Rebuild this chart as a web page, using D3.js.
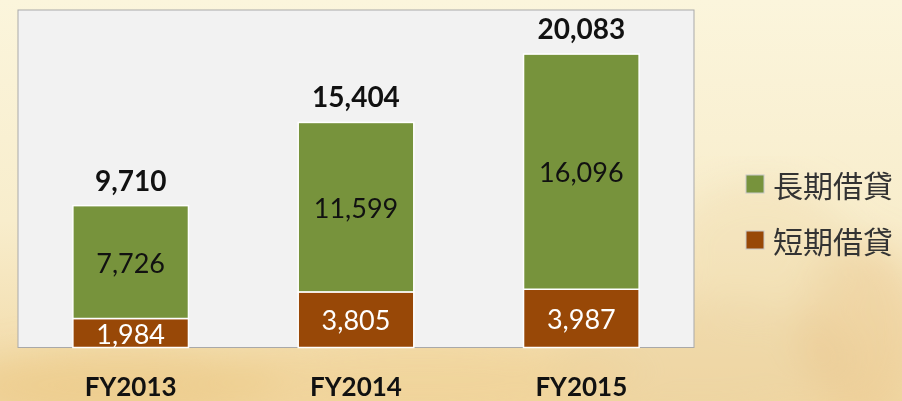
<!DOCTYPE html>
<html>
<head>
<meta charset="utf-8">
<script src="https://cdn.jsdelivr.net/npm/d3@7"></script>
<style>
    body { margin: 0; background: #faf3d8; overflow: hidden; }
    svg { display: block; }
    .total { font-family: Lato, "Open Sans", sans-serif; font-weight: 700; font-size: 28px; fill: #111; }
    .inner { font-family: Lato, "Open Sans", sans-serif; font-size: 27px; }
    .xlab { font-family: Lato, "Open Sans", sans-serif; font-weight: 700; font-size: 26px; fill: #111; }
    .legend text { font-family: "Noto Sans CJK TC", sans-serif; font-size: 30px; fill: #333; }
</style>
</head>
<body>
<div id="chart"></div>
<script>
// Data
const years = ["FY2013", "FY2014", "FY2015"];
const longTerm = [7726, 11599, 16096];
const shortTerm = [1984, 3805, 3987];
const totals = [9710, 15404, 20083];
const seriesNames = ["長期借貸", "短期借貸"];
const seriesColors = ["#77933c", "#984807"];

const width = 902, height = 401;
const plot = { left: 18, top: 10, right: 694, bottom: 347.5 };

const svg = d3.select("#chart").append("svg")
    .attr("width", width)
    .attr("height", height);

// --- Background (warm watercolor paper) ---
const defs = svg.append("defs");
const bgGrad = defs.append("linearGradient").attr("id", "bg").attr("x1", 0).attr("y1", 0).attr("x2", 0).attr("y2", 1);
bgGrad.append("stop").attr("offset", "0%").attr("stop-color", "#fbf5dc");
bgGrad.append("stop").attr("offset", "55%").attr("stop-color", "#f8edcc");
bgGrad.append("stop").attr("offset", "100%").attr("stop-color", "#f1d8a4");
svg.append("rect").attr("width", width).attr("height", height).attr("fill", "url(#bg)");

defs.append("filter").attr("id", "blur").append("feGaussianBlur").attr("stdDeviation", 18);
const blobs = [
    { cx: 120, cy: 385, rx: 160, ry: 35, c: "#ebc47e", o: 0.55 },
    { cx: 420, cy: 380, rx: 220, ry: 40, c: "#f0cf92", o: 0.5 },
    { cx: 700, cy: 360, rx: 150, ry: 60, c: "#ecd2a0", o: 0.5 },
    { cx: 860, cy: 330, rx: 60, ry: 90, c: "#e9c68c", o: 0.45 },
    { cx: 760, cy: 250, rx: 90, ry: 70, c: "#efdcb0", o: 0.45 }
];
svg.append("g").attr("filter", "url(#blur)")
    .selectAll("ellipse").data(blobs).join("ellipse")
    .attr("cx", d => d.cx).attr("cy", d => d.cy)
    .attr("rx", d => d.rx).attr("ry", d => d.ry)
    .attr("fill", d => d.c).attr("opacity", d => d.o);

// --- Plot area ---
svg.append("rect")
    .attr("x", plot.left).attr("y", plot.top)
    .attr("width", plot.right - plot.left).attr("height", plot.bottom - plot.top)
    .attr("fill", "#f2f2f2")
    .attr("stroke", "#a9a9a9")
    .attr("stroke-width", 1);

// Scales
const x = d3.scaleBand()
    .domain(years)
    .range([plot.left, plot.right])
    .paddingInner(0.487)
    .paddingOuter(0.2435);

const y = d3.scaleLinear()
    .domain([0, 23100])
    .range([plot.bottom, plot.top]);

// Stack: short term at the bottom, long term above
const rows = years.map((yr, i) => ({ year: yr, short: shortTerm[i], long: longTerm[i] }));
const stacked = d3.stack().keys(["short", "long"])(rows);
const colorOf = { short: seriesColors[1], long: seriesColors[0] };
const textColorOf = { short: "#fff", long: "#111" };

const layers = svg.append("g")
    .selectAll("g")
    .data(stacked)
    .join("g")
    .attr("fill", d => colorOf[d.key]);

layers.selectAll("rect")
    .data(d => d)
    .join("rect")
    .attr("x", d => x(d.data.year))
    .attr("y", d => y(d[1]))
    .attr("width", x.bandwidth())
    .attr("height", d => y(d[0]) - y(d[1]))
    .attr("stroke", "#fff")
    .attr("stroke-width", 1.5);

// Segment labels
stacked.forEach(layer => {
    svg.append("g")
        .selectAll("text")
        .data(layer)
        .join("text")
        .attr("class", "inner")
        .attr("x", d => x(d.data.year) + x.bandwidth() / 2)
        .attr("y", d => (y(d[0]) + y(d[1])) / 2)
        .attr("text-anchor", "middle")
        .attr("dominant-baseline", "central")
        .attr("fill", textColorOf[layer.key])
        .text(d => d3.format(",")(d[1] - d[0]));
});

// Totals above bars
svg.append("g")
    .selectAll("text")
    .data(years)
    .join("text")
    .attr("class", "total")
    .attr("x", d => x(d) + x.bandwidth() / 2)
    .attr("y", (d, i) => y(totals[i]) - 26)
    .attr("text-anchor", "middle")
    .attr("dominant-baseline", "central")
    .text((d, i) => d3.format(",")(totals[i]));

// Category labels
svg.append("g")
    .selectAll("text")
    .data(years)
    .join("text")
    .attr("class", "xlab")
    .attr("x", d => x(d) + x.bandwidth() / 2)
    .attr("y", 396)
    .attr("text-anchor", "middle")
    .text(d => d);

// --- Legend ---
const legend = svg.append("g")
    .attr("class", "legend")
    .attr("transform", "translate(746,175)");

const item = legend.selectAll("g")
    .data(seriesNames)
    .join("g")
    .attr("transform", (d, i) => `translate(0,${i * 56})`);

item.append("rect")
    .attr("width", 18).attr("height", 18)
    .attr("fill", (d, i) => seriesColors[i])
    .attr("stroke", "#c8c8c8")
    .attr("stroke-width", 1);

item.append("text")
    .attr("x", 27)
    .attr("y", 9)
    .attr("dominant-baseline", "central")
    .text(d => d);
</script>
</body>
</html>
